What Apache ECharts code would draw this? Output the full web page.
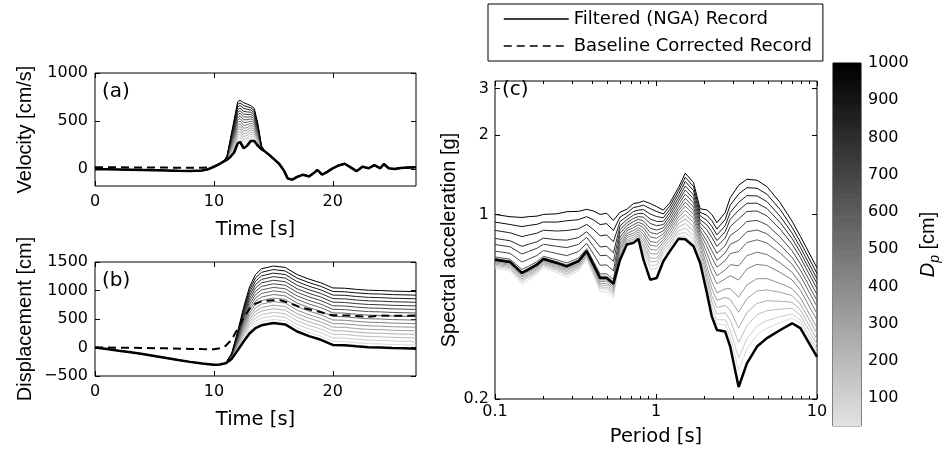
<!DOCTYPE html>
<html><head><meta charset="utf-8">
<script src="https://cdn.jsdelivr.net/npm/echarts@6/dist/echarts.min.js"></script>
<style>html,body{margin:0;padding:0;background:#fff}#c{width:947px;height:457px}</style>
</head><body><div id="c"></div>
<script>
// ================= DATA =================
const dpValues = [62.5,125,187.5,250,312.5,375,437.5,500,562.5,625,687.5,750,812.5,875,937.5,1000];

// ---- Panel (a): velocity [cm/s] ----
const velPreT    = [0,1,2,3,4,5,6,7,8,9,9.5,10,10.4];
const velPreBase = [-5,-6,-8,-10,-12,-15,-18,-22,-24,-18,-5,20,45];
const velPreCorr = [15,15,15,14,14,13,12,11,10,10,15,25,45];
const velPulseT    = [10.8,11.1,11.4,11.7,12.0,12.2,12.5,12.8,13.1,13.4,13.7,14.0,14.3];
const velPulseBase = [75,95,125,170,265,280,215,240,290,290,240,205,180];
const velPulse = [
 [75,97,137,191,292,307,245,267,313,311,254,207,180],
 [75,99,149,213,319,334,274,294,336,333,269,209,180],
 [75,102,162,234,347,362,304,322,359,354,283,212,180],
 [75,104,174,255,374,389,334,349,383,375,298,214,180],
 [75,106,186,276,401,416,363,376,406,396,312,216,180],
 [75,108,198,298,428,443,393,403,429,418,326,218,180],
 [75,110,210,319,455,470,423,430,452,439,341,220,180],
 [75,113,223,340,483,498,453,458,475,460,355,223,180],
 [75,115,235,361,510,525,482,485,498,481,369,225,180],
 [75,117,247,383,537,552,512,512,521,503,384,227,180],
 [75,119,259,404,564,579,542,539,544,524,398,229,180],
 [75,121,271,425,591,606,571,566,568,545,413,231,180],
 [75,123,283,446,618,633,601,593,591,566,427,233,180],
 [75,126,296,468,646,661,631,621,614,588,441,236,180],
 [75,128,308,489,673,688,660,648,637,609,456,238,180],
 [75,130,320,510,700,715,690,675,660,630,470,240,180]
];
const velPostT    = [14.7,15.1,15.5,15.9,16.2,16.6,17.0,17.5,18.0,18.4,18.7,19.1,19.5,20.0,20.5,21.0,21.5,22.0,22.5,23.0,23.5,24.0,24.3,24.7,25.2,25.7,26.3,27.0];
const velPostBase = [140,95,50,-20,-100,-114,-85,-62,-80,-45,-12,-62,-35,5,35,52,15,-25,22,5,38,5,50,5,-3,8,12,15];

// ---- Panel (b): displacement [cm] ----
const dispPreT    = [0,1,2,3,4,5,6,7,8,9,10,10.5];
const dispPreBase = [0,-27,-57,-85,-115,-150,-185,-220,-252,-280,-303,-298];
const dispPostT    = [11,11.5,12,12.5,13,13.5,14,15,16,17,18,19,20,21,22,23,24,25,26,27];
const dispPostBase = [-275,-200,-50,105,245,340,390,430,405,280,200,135,45,40,20,5,0,-10,-15,-20];
const dispCurves = [
 [-275,-194,-29,143,296,399,452,493,468,343,263,198,108,103,83,68,63,53,48,43],
 [-275,-187,-9,180,348,458,514,555,530,405,325,260,170,165,145,130,125,115,110,105],
 [-275,-181,12,218,399,516,576,618,593,468,388,323,233,228,208,193,188,178,173,168],
 [-275,-175,33,255,450,575,638,680,655,530,450,385,295,290,270,255,250,240,235,230],
 [-275,-169,53,293,501,634,699,743,718,593,513,448,358,353,333,318,313,303,298,293],
 [-275,-162,74,330,553,693,761,805,780,655,575,510,420,415,395,380,375,365,360,355],
 [-275,-156,94,368,604,751,823,868,843,718,638,573,483,478,458,443,438,428,423,418],
 [-275,-150,115,405,655,810,885,930,905,780,700,635,545,540,520,505,500,490,485,480],
 [-275,-144,136,443,706,869,947,993,968,843,763,698,608,603,583,568,563,553,548,543],
 [-275,-137,156,480,758,928,1009,1055,1030,905,825,760,670,665,645,630,625,615,610,605],
 [-275,-131,177,518,809,986,1071,1118,1093,968,888,823,733,728,708,693,688,678,673,668],
 [-275,-125,198,555,860,1045,1133,1180,1155,1030,950,885,795,790,770,755,750,740,735,730],
 [-275,-119,218,593,911,1104,1194,1243,1218,1093,1013,948,858,853,833,818,813,803,798,793],
 [-275,-112,239,630,963,1163,1256,1305,1280,1155,1075,1010,920,915,895,880,875,865,860,855],
 [-275,-106,259,668,1014,1221,1318,1368,1343,1218,1138,1073,983,978,958,943,938,928,923,918],
 [-275,-100,280,705,1065,1280,1380,1430,1405,1280,1200,1135,1045,1040,1020,1005,1000,990,985,980]
];
const dispCorrT = [0,2,4,6,8,9,10,10.5,11,11.5,12,12.5,13,13.5,14,15,15.6,16.4,17.3,18.7,20,21.5,22.9,24.3,25.5,27];
const dispCorr  = [0,-3,-8,-15,-25,-28,-30,-15,30,140,330,520,680,770,810,830,830,775,705,635,565,560,540,560,555,560];

// ---- Panel (c): spectral acceleration [g] ----
const periods = [0.1,0.124,0.147,0.161,0.182,0.2,0.242,0.279,0.33,0.371,0.409,0.45,0.494,0.544,0.598,0.659,0.725,0.778,0.836,0.92,1.01,1.11,1.22,1.38,1.52,1.71,1.88,2.07,2.22,2.39,2.69,2.89,3.26,3.67,4.24,4.89,5.91,7.0,7.88,10];
const saBase = [0.674,0.661,0.600,0.618,0.645,0.678,0.655,0.636,0.665,0.726,0.645,0.574,0.574,0.547,0.674,0.769,0.780,0.808,0.674,0.566,0.574,0.665,0.726,0.808,0.805,0.758,0.655,0.504,0.411,0.365,0.360,0.316,0.222,0.273,0.316,0.340,0.365,0.387,0.371,0.289];
const saCurves = [
 [.625,.613,.544,.564,.594,.630,.602,.578,.611,.678,.587,.510,.509,.487,.674,.769,.780,.808,.719,.619,.624,.702,.737,.822,.824,.775,.667,.522,.430,.384,.382,.344,.257,.309,.350,.371,.389,.405,.386,.300],
 [.635,.623,.555,.575,.604,.639,.613,.589,.622,.688,.599,.523,.522,.499,.681,.775,.786,.814,.737,.641,.643,.717,.756,.844,.855,.803,.687,.536,.446,.399,.399,.366,.286,.338,.378,.396,.410,.420,.398,.309],
 [.641,.629,.563,.582,.611,.646,.620,.597,.629,.694,.606,.531,.530,.507,.691,.783,.796,.823,.755,.662,.663,.732,.776,.867,.887,.831,.706,.557,.469,.420,.424,.398,.327,.379,.417,.432,.438,.441,.416,.322],
 [.648,.635,.570,.589,.618,.652,.627,.605,.636,.700,.614,.540,.539,.515,.702,.791,.806,.832,.773,.683,.683,.747,.798,.894,.924,.865,.730,.579,.493,.444,.452,.434,.371,.425,.460,.471,.469,.465,.435,.336],
 [.654,.642,.578,.596,.625,.659,.634,.613,.643,.707,.622,.548,.548,.523,.716,.802,.818,.844,.796,.710,.708,.766,.821,.922,.962,.899,.754,.606,.523,.473,.485,.477,.426,.480,.513,.518,.507,.493,.458,.354],
 [.661,.648,.585,.604,.631,.665,.641,.620,.651,.713,.630,.557,.557,.531,.733,.816,.834,.859,.818,.737,.733,.784,.844,.949,.999,.932,.777,.636,.556,.505,.522,.524,.486,.541,.571,.571,.548,.524,.484,.372],
 [.667,.655,.593,.611,.638,.672,.648,.628,.658,.720,.637,.565,.565,.539,.750,.830,.850,.874,.841,.764,.758,.803,.867,.976,1.037,.966,.801,.676,.600,.546,.570,.586,.564,.622,.647,.640,.603,.565,.517,.397],
 [.674,.661,.600,.618,.645,.678,.655,.636,.665,.726,.645,.574,.574,.547,.771,.846,.870,.892,.863,.790,.782,.822,.890,1.004,1.075,1.000,.825,.714,.641,.586,.616,.645,.639,.698,.719,.705,.655,.604,.549,.421],
 [.681,.667,.607,.625,.652,.684,.662,.644,.672,.732,.653,.583,.583,.555,.795,.866,.892,.913,.890,.822,.812,.844,.913,1.031,1.112,1.033,.849,.756,.688,.631,.668,.711,.723,.783,.801,.779,.714,.648,.585,.448],
 [.690,.677,.619,.636,.662,.694,.673,.655,.683,.742,.664,.595,.596,.567,.819,.885,.914,.934,.917,.854,.842,.866,.936,1.058,1.150,1.067,.872,.793,.729,.670,.714,.770,.798,.859,.873,.844,.766,.687,.617,.472],
 [.726,.712,.660,.676,.699,.730,.711,.698,.723,.777,.707,.642,.644,.611,.847,.907,.940,.958,.944,.886,.872,.889,.962,1.090,1.194,1.106,.900,.833,.773,.712,.762,.832,.877,.940,.949,.913,.821,.728,.651,.497],
 [.769,.754,.708,.723,.744,.771,.757,.749,.770,.819,.757,.698,.700,.664,.875,.929,.966,.981,.976,.924,.906,.915,.989,1.122,1.238,1.146,.928,.875,.819,.757,.814,.899,.961,1.026,1.030,.987,.879,.772,.687,.523],
 [.811,.795,.757,.770,.788,.813,.802,.799,.817,.860,.807,.753,.757,.716,.906,.954,.994,1.008,1.007,.961,.941,.941,1.016,1.154,1.282,1.185,.955,.913,.860,.796,.860,.958,1.036,1.102,1.103,1.053,.931,.811,.719,.547],
 [.870,.852,.824,.835,.849,.871,.865,.869,.882,.917,.876,.830,.836,.788,.940,.982,1.026,1.038,1.043,1.004,.981,.971,1.046,1.190,1.332,1.230,.987,.950,.902,.836,.906,1.017,1.111,1.178,1.175,1.118,.983,.850,.751,.571],
 [.935,.916,.899,.908,.917,.936,.935,.946,.955,.981,.953,.915,.923,.869,.978,1.012,1.062,1.071,1.084,1.052,1.025,1.004,1.077,1.227,1.382,1.275,1.018,.993,.948,.880,.957,1.083,1.195,1.263,1.256,1.192,1.042,.894,.787,.597],
 [1.000,.980,.974,.980,.985,1.000,1.005,1.024,1.027,1.045,1.030,1.000,1.010,.949,1.020,1.045,1.100,1.107,1.124,1.100,1.070,1.038,1.107,1.263,1.432,1.320,1.050,1.040,1.000,.930,1.015,1.157,1.289,1.359,1.347,1.274,1.107,.943,.827,.627]
];

// ---- ticks / labels ----
const timeTicks = [0,10,20];
const velTicks = [0,500,1000];
const velRange = [-180,1000];
const dispTicks = [-500,0,500,1000,1500];
const dispRange = [-500,1500];
const timeRange = [0,27];
const periodTicks = [0.1,1,10];
const periodLabels = ['0.1','1','10'];
const periodMinor = [0.2,0.3,0.4,0.5,0.6,0.7,0.8,0.9,2,3,4,5,6,7,8,9];
const saTicks = [0.2,1,2,3];
const saLabels = ['0.2','1','2','3'];
const saRange = [0.2,3.2];
const cbTicks = [100,200,300,400,500,600,700,800,900,1000];
const cbRange = [25,1000];
const legendNames = ['Filtered (NGA) Record','Baseline Corrected Record'];

// ================= STYLE / BUILD =================
const FONT_H = 'DejaVu Sans';
const FONT_V = 'Liberation Sans';
const NLEV = 64;
function grayLevel(v){
  const f = (v - cbRange[0]) / (cbRange[1] - cbRange[0]);
  const idx = Math.max(0, Math.min(NLEV-1, Math.floor(f*NLEV)));
  return Math.round(225 * (1 - idx/(NLEV-1)));
}
const gcol = l => `rgb(${l},${l},${l})`;
const zip = (xs, ys) => xs.map((x,i)=>[x, ys[i]]);
const lg = v => Math.log10(v);

const tick = (vals, len) => ({show:true, inside:true, length:len||5, customValues:vals, lineStyle:{color:'#000', width:1}});
const lab = (vals, fmt, margin, extra) => Object.assign({show:true, customValues:vals, formatter:fmt, margin:margin, color:'#000', fontSize:16, fontFamily:FONT_H}, extra||{});
const hName = {fontSize:19.5, fontFamily:FONT_H, color:'#000'};
const vName = {fontSize:20, fontFamily:FONT_V, color:'#000'};
function ax(o){ return Object.assign({type:'value', axisLine:{show:false,onZero:false}, splitLine:{show:false}, axisLabel:{show:false}}, o); }
const labFrom = (ticks, labels) => (v => { let b=0; ticks.forEach((t,i)=>{ if (Math.abs(lg(t)-v) < Math.abs(lg(ticks[b])-v)) b=i; }); return labels[b]; });
const fmtNeg = v => (v < 0 ? '\u2212' + Math.abs(v) : String(v));

const series = [];
const lineBase = {type:'line', showSymbol:false, symbol:'none', silent:true, animation:false};

// Panel (a)
const velT = velPreT.concat(velPulseT, velPostT);
velPulse.forEach((c,k)=>{
  series.push(Object.assign({}, lineBase, {xAxisIndex:0, yAxisIndex:0,
    data: zip(velT, velPreBase.concat(c, velPostBase)),
    lineStyle:{width:1, color:gcol(grayLevel(dpValues[k]))}}));
});
series.push(Object.assign({}, lineBase, {name:legendNames[0], xAxisIndex:0, yAxisIndex:0,
  data: zip(velT, velPreBase.concat(velPulseBase, velPostBase)), color:'#000',
  lineStyle:{width:2.5, color:'#000'}}));
series.push(Object.assign({}, lineBase, {name:legendNames[1], xAxisIndex:0, yAxisIndex:0,
  data: zip(velT, velPreCorr.concat(velPulseBase, velPostBase)), color:'#000',
  lineStyle:{width:2, color:'#000', type:[8,5]}}));

// Panel (b)
const dispT = dispPreT.concat(dispPostT);
dispCurves.forEach((c,k)=>{
  series.push(Object.assign({}, lineBase, {xAxisIndex:2, yAxisIndex:2,
    data: zip(dispT, dispPreBase.concat(c)),
    lineStyle:{width:1, color:gcol(grayLevel(dpValues[k]))}}));
});
series.push(Object.assign({}, lineBase, {name:legendNames[0], xAxisIndex:2, yAxisIndex:2,
  data: zip(dispT, dispPreBase.concat(dispPostBase)), color:'#000',
  lineStyle:{width:2.5, color:'#000'}}));
series.push(Object.assign({}, lineBase, {name:legendNames[1], xAxisIndex:2, yAxisIndex:2,
  data: zip(dispCorrT, dispCorr), color:'#000',
  lineStyle:{width:2, color:'#000', type:[8,5]}}));

// Panel (c)
saCurves.forEach((c,k)=>{
  series.push(Object.assign({}, lineBase, {xAxisIndex:4, yAxisIndex:4,
    data: zip(periods, c),
    lineStyle:{width:1, color:gcol(grayLevel(dpValues[k]))}}));
});
series.push(Object.assign({}, lineBase, {name:legendNames[0], xAxisIndex:4, yAxisIndex:4,
  data: zip(periods, saBase), color:'#000',
  lineStyle:{width:2.5, color:'#000'}}));

// Colorbar (colormap bands)
const cbBands = [];
for (let i=0;i<NLEV;i++){
  const lo = cbRange[0] + i*(cbRange[1]-cbRange[0])/NLEV;
  const hi = cbRange[0] + (i+1)*(cbRange[1]-cbRange[0])/NLEV;
  cbBands.push([lo, hi, Math.round(225*(1 - i/(NLEV-1)))]);
}
series.push({type:'custom', xAxisIndex:9, yAxisIndex:7, silent:true, animation:false,
  data: cbBands,
  renderItem: (params, api) => {
    const p0 = api.coord([0, api.value(1)]);
    const p1 = api.coord([1, api.value(0)]);
    const l = api.value(2);
    return {type:'rect', shape:{x:p0[0], y:p0[1], width:p1[0]-p0[0], height:p1[1]-p0[1]+0.6}, style:{fill:gcol(l)}};
  }});

const option = {
  animation:false,
  backgroundColor:'#fff',
  textStyle:{fontFamily:FONT_H},
  legend:{
    data:legendNames, orient:'vertical', left:488, top:4,
    itemWidth:65, itemHeight:14, itemGap:9, padding:[6,11,6,15],
    borderColor:'#000', borderWidth:1, backgroundColor:'#fff',
    textStyle:{fontSize:18, fontFamily:FONT_H, color:'#000'},
    itemStyle:{opacity:0, borderWidth:0},
    lineStyle:{width:1.5}, selectedMode:false
  },
  grid:[
    {left:95, top:73, width:321, height:113, show:true, borderColor:'#000', borderWidth:1, backgroundColor:'transparent'},
    {left:95, top:262, width:321, height:114, show:true, borderColor:'#000', borderWidth:1, backgroundColor:'transparent'},
    {left:495, top:81, width:322, height:318, show:true, borderColor:'#000', borderWidth:1, backgroundColor:'transparent'},
    {left:833, top:63, width:28, height:363, show:true, borderColor:'#000', borderWidth:1, backgroundColor:'transparent'}
  ],
  xAxis:[
    ax({gridIndex:0, position:'bottom', min:timeRange[0], max:timeRange[1], axisTick:tick(timeTicks), axisLabel:lab(timeTicks, v=>String(v), 8), name:'Time [s]', nameLocation:'middle', nameGap:34, nameTextStyle:hName}),
    ax({gridIndex:0, position:'top', min:timeRange[0], max:timeRange[1], axisTick:tick(timeTicks)}),
    ax({gridIndex:1, position:'bottom', min:timeRange[0], max:timeRange[1], axisTick:tick(timeTicks), axisLabel:lab(timeTicks, v=>String(v), 8), name:'Time [s]', nameLocation:'middle', nameGap:34, nameTextStyle:hName}),
    ax({gridIndex:1, position:'top', min:timeRange[0], max:timeRange[1], axisTick:tick(timeTicks)}),
    {gridIndex:2, type:'log', logBase:10, min:periodTicks[0], max:periodTicks[2], show:false},
    ax({gridIndex:2, position:'bottom', min:lg(periodTicks[0]), max:lg(periodTicks[2]), axisTick:tick(periodTicks.map(lg),5), axisLabel:lab(periodTicks.map(lg), labFrom(periodTicks, periodLabels), 5), name:'Period [s]', nameLocation:'middle', nameGap:28, nameTextStyle:hName}),
    ax({gridIndex:2, position:'bottom', min:lg(periodTicks[0]), max:lg(periodTicks[2]), axisTick:tick(periodMinor.map(lg),3)}),
    ax({gridIndex:2, position:'top', min:lg(periodTicks[0]), max:lg(periodTicks[2]), axisTick:tick(periodTicks.map(lg),5)}),
    ax({gridIndex:2, position:'top', min:lg(periodTicks[0]), max:lg(periodTicks[2]), axisTick:tick(periodMinor.map(lg),3)}),
    {gridIndex:3, type:'value', min:0, max:1, show:false}
  ],
  yAxis:[
    ax({gridIndex:0, position:'left', min:velRange[0], max:velRange[1], axisTick:tick(velTicks), axisLabel:lab(velTicks, v=>String(v), 7), name:'Velocity [cm/s]', nameLocation:'middle', nameRotate:90, nameGap:60, nameTextStyle:vName}),
    ax({gridIndex:0, position:'right', min:velRange[0], max:velRange[1], axisTick:tick(velTicks)}),
    ax({gridIndex:1, position:'left', min:dispRange[0], max:dispRange[1], axisTick:tick(dispTicks), axisLabel:lab(dispTicks, fmtNeg, 7), name:'Displacement [cm]', nameLocation:'middle', nameRotate:90, nameGap:60, nameTextStyle:vName}),
    ax({gridIndex:1, position:'right', min:dispRange[0], max:dispRange[1], axisTick:tick(dispTicks)}),
    {gridIndex:2, type:'log', logBase:10, min:saRange[0], max:saRange[1], show:false},
    ax({gridIndex:2, position:'left', min:lg(saRange[0]), max:lg(saRange[1]), axisTick:tick(saTicks.map(lg)), axisLabel:lab(saTicks.map(lg), labFrom(saTicks, saLabels), 6), name:'Spectral acceleration [g]', nameLocation:'middle', nameRotate:90, nameGap:29, nameTextStyle:vName}),
    ax({gridIndex:2, position:'right', min:lg(saRange[0]), max:lg(saRange[1]), axisTick:tick(saTicks.map(lg))}),
    ax({gridIndex:3, position:'right', min:cbRange[0], max:cbRange[1], axisTick:tick(cbTicks,4), axisLabel:lab(cbTicks, v=>String(v), 7),
        name:'{i|D}{s|p} {n|[cm]}', nameLocation:'middle', nameRotate:90, nameGap:54,
        nameTextStyle:{fontSize:20, fontFamily:FONT_V, color:'#000', rich:{
          i:{fontSize:20, fontFamily:FONT_V, fontStyle:'italic', color:'#000'},
          s:{fontSize:14, fontFamily:FONT_V, fontStyle:'italic', color:'#000', padding:[13,0,0,0]},
          n:{fontSize:20, fontFamily:FONT_V, color:'#000'}}}}),
    ax({gridIndex:3, position:'left', min:cbRange[0], max:cbRange[1], axisTick:tick(cbTicks,4)})
  ],
  graphic:[
    {type:'text', left:102, top:82, silent:true, style:{text:'(a)', fontSize:20, fontFamily:FONT_H, fill:'#000'}},
    {type:'text', left:102, top:271, silent:true, style:{text:'(b)', fontSize:20, fontFamily:FONT_H, fill:'#000'}},
    {type:'text', left:502, top:80, silent:true, style:{text:'(c)', fontSize:20, fontFamily:FONT_H, fill:'#000'}}
  ],
  series: series
};
const chart = echarts.init(document.getElementById('c'), null, {renderer:'canvas'});
chart.setOption(option);
</script></body></html>
